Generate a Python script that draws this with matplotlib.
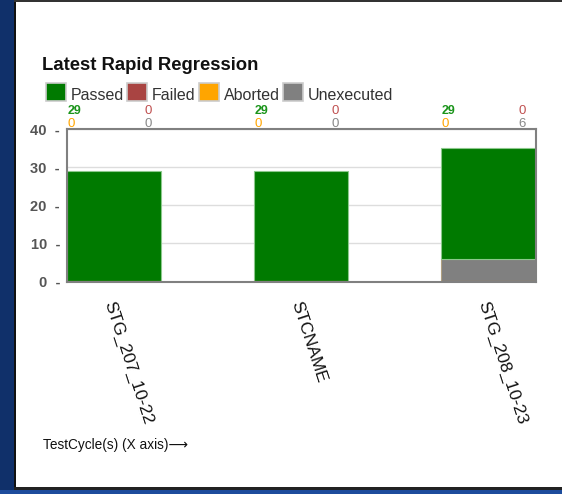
import matplotlib
matplotlib.use("Agg")
import matplotlib.pyplot as plt
from matplotlib.patches import Rectangle
import numpy as np

# ---- data ----
categories = ["STG_207_10-22", "STCNAME", "STG_208_10-23"]
passed = [29, 29, 29]
failed = [0, 0, 0]
aborted = [0, 0, 0]
unexecuted = [0, 0, 6]
series_names = ["Passed", "Failed", "Aborted", "Unexecuted"]
y_ticks = [0, 10, 20, 30, 40]
title = "Latest Rapid Regression"
xlabel = "TestCycle(s) (X axis)\u27f6"

REG = ["Liberation Sans", "DejaVu Sans"]

c_pass, c_fail, c_abort, c_unex = "#007a00", "#a94442", "#ffa500", "#808080"
e_pass, e_fail, e_abort, e_unex = "#8cc88c", "#b08050", "#b08a50", "#b0a080"

fig = plt.figure(figsize=(5.62, 4.94), dpi=100)
fig.patch.set_facecolor("white")
W, H = 562.0, 494.0

def px_rect(x0, y0, w, h, color):
    fig.patches.append(Rectangle((x0 / W, 1 - (y0 + h) / H), w / W, h / H,
                                 transform=fig.transFigure, facecolor=color,
                                 edgecolor="none", zorder=-10))

px_rect(0, 0, 14, H, "#10306a")
px_rect(14, 0, 2, 490, "#111111")
px_rect(14, 0, W - 14, 2, "#333333")
px_rect(14, 487, W - 14, 3, "#222222")
px_rect(0, 490, W, 4, "#1d4c9c")

ax = fig.add_axes([67 / W, 1 - 281.5 / H, (535.5 - 67) / W, (281.5 - 129) / H])
x = np.arange(len(categories))
bw = 0.505
b = np.zeros(len(categories))
for vals, fc, ec, z in [(unexecuted, c_unex, e_unex, 3), (passed, c_pass, e_pass, 3)]:
    ax.bar(x, vals, width=bw, bottom=b, align="edge", color=fc, edgecolor=ec,
           linewidth=0.8, zorder=z)
    b = b + np.array(vals)
# zero-height aborted / failed segments sit at the base of each bar
ax.bar(x, aborted, width=bw, bottom=0, align="edge", color=c_abort,
       edgecolor=e_abort, linewidth=1.6, zorder=4)
ax.bar(x, failed, width=bw, bottom=0, align="edge", color=c_fail,
       edgecolor=e_fail, linewidth=1.0, zorder=4)

ax.set_xlim(0, 2 + bw)
ax.set_ylim(0, 40)
ax.set_yticks(y_ticks)
ax.set_yticklabels([f"{v}  -" for v in y_ticks], fontweight="bold",
                   color="#555555", fontsize=10.5, family=REG)
ax.tick_params(axis="y", length=0, pad=5)
ax.grid(axis="y", color="#dddddd", linewidth=1, zorder=0)
for s in ax.spines.values():
    s.set_color("#808080")
    s.set_linewidth(1.5)
    s.set_zorder(5)

ax.set_xticks(x + bw / 2)
ax.set_xticklabels([])
ax.tick_params(axis="x", length=0)
for xi, lab in zip(x, categories):
    ax.text(xi + bw / 2 - 0.03, -0.13, lab, transform=ax.get_xaxis_transform(),
            rotation=-72, rotation_mode="anchor", ha="left", va="center",
            fontsize=12.5, family=REG, color="#111111")

tr = ax.get_xaxis_transform()
for xi, p, f, a, u in zip(x, passed, failed, aborted, unexecuted):
    ax.text(xi + 0.005, 1.10, str(p), transform=tr, color="#1a941a", fontsize=9,
            family=REG, fontweight="bold", ha="left", va="baseline")
    ax.text(xi + 0.003, 1.012, str(a), transform=tr, color="#ffa500", fontsize=9.5,
            family=REG, ha="left", va="baseline")
    ax.text(xi + 0.415, 1.10, str(f), transform=tr, color="#c05050", fontsize=9.5,
            family=REG, ha="left", va="baseline")
    ax.text(xi + 0.415, 1.012, str(u), transform=tr, color="#888888", fontsize=9.5,
            family=REG, ha="left", va="baseline")

fig.text(42 / W, 1 - 70 / H, title, fontsize=13.3, fontweight="bold",
         family=REG, color="#111111", ha="left", va="baseline")

# legend row
leg_items = [("Passed", c_pass, 46), ("Failed", c_fail, 127),
             ("Aborted", c_abort, 199), ("Unexecuted", c_unex, 283)]
for name, col, lx in leg_items:
    fig.patches.append(Rectangle((lx / W, 1 - 101 / H), 20 / W, 18 / H,
                                 transform=fig.transFigure, facecolor=col,
                                 edgecolor="#cccccc", linewidth=1.2))
    fig.text((lx + 25) / W, 1 - 100 / H, name, fontsize=11.5, family=REG,
             color="#333333", ha="left", va="baseline")

fig.text(43 / W, 1 - 449 / H, xlabel, fontsize=9.8, family=REG,
         color="#111111", ha="left", va="baseline")

fig.savefig("out.png", dpi=100, facecolor="white")
